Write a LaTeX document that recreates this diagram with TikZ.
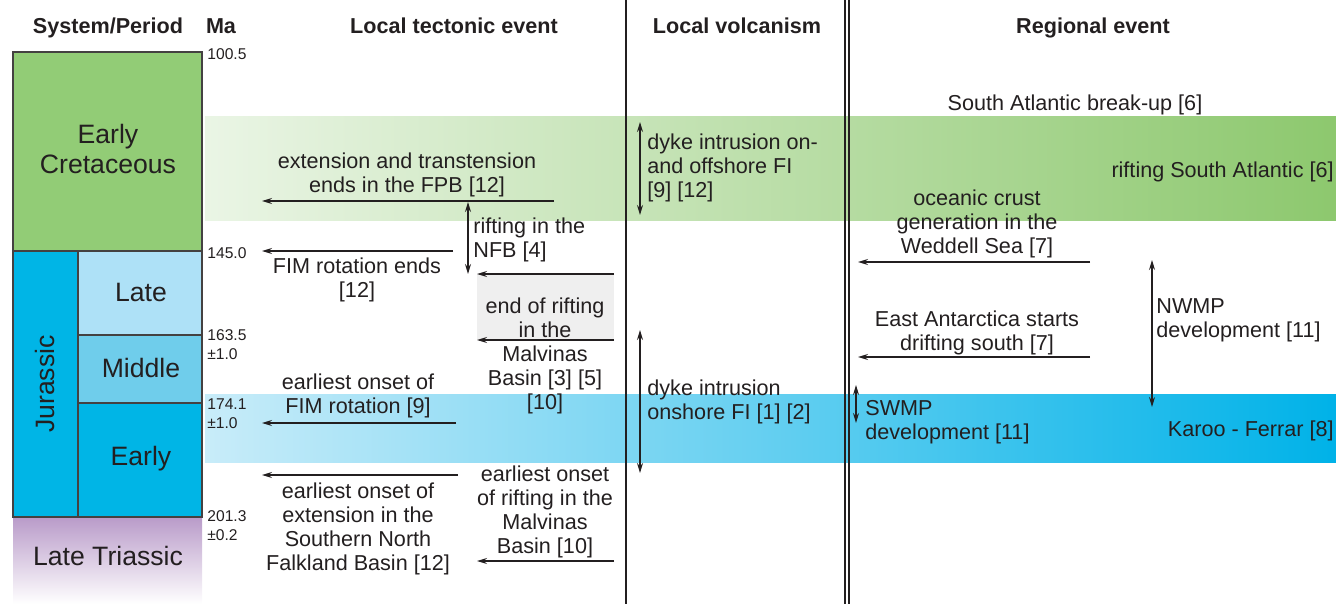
\documentclass[tikz,border=0pt]{standalone}
\usepackage{fontspec}
\setmainfont{Liberation Sans}
\usetikzlibrary{arrows.meta}
\definecolor{ink}{HTML}{231F20}
\definecolor{cretgreen}{HTML}{92CC76}
\definecolor{jur}{HTML}{00B5E6}
\definecolor{jlate}{HTML}{AEE1F7}
\definecolor{jmid}{HTML}{6FCDEB}
\definecolor{jearly}{HTML}{00B5E6}
\definecolor{tri}{HTML}{B99BC9}
\definecolor{gL}{HTML}{EAF5E5}
\definecolor{gM}{HTML}{C2E2B2}
\definecolor{gR}{HTML}{8DC86E}
\definecolor{bL}{HTML}{C8ECF9}
\definecolor{bM}{HTML}{6CD0F0}
\definecolor{bR}{HTML}{00B2E8}
\definecolor{grayfill}{HTML}{EFEFEF}
\begin{document}
\begin{tikzpicture}[x=0.5pt,y=-0.5pt,
  txt/.style={font=\fontsize{10.8}{12}\selectfont, align=center, inner sep=0pt, text=ink, yshift=-1pt},
  ltxt/.style={txt, align=left, anchor=west},
  hdr/.style={font=\fontsize{10.8}{12}\selectfont\bfseries, inner sep=0pt, text=ink, anchor=base},
  malab/.style={font=\fontsize{7.8}{9.5}\selectfont, align=left, anchor=west, inner sep=0pt, text=ink, yshift=-0.8pt},
  per/.style={font=\fontsize{13.3}{15}\selectfont, align=center, inner sep=0pt, text=ink},
  box/.style={draw=ink!85, line width=0.6pt},
  arr/.style={-{Stealth[length=5pt,width=3pt]}, line width=0.6pt, draw=ink},
  dblarr/.style={{Stealth[length=5pt,width=3pt]}-{Stealth[length=5pt,width=3pt]}, line width=0.6pt, draw=ink},
  sep/.style={line width=0.75pt, draw=ink}]
\useasboundingbox (0,0) rectangle (1336,604);

% bands
\shade[left color=gL, middle color=gM, right color=gR] (205,117) rectangle (1336,220);
\shade[left color=bL, middle color=bM, right color=bR] (205,394) rectangle (1336,462);
\fill[grayfill] (477,274) rectangle (614,340);

% headers
\node[hdr] (hsys) at (108,34) {System/Period};
\node[hdr] (hma) at (221,34) {Ma};
\node[hdr] (htec) at (454,34) {Local tectonic event};
\node[hdr] (hvol) at (737,34) {Local volcanism};
\node[hdr] (hreg) at (1093,34) {Regional event};

% separators
\draw[sep] (626,0) -- (626,604);
\draw[sep] (845,0) -- (845,604);
\draw[sep] (849,0) -- (849,604);

% geological column
\shade[top color=tri, bottom color=white] (13,517) rectangle (202,604);
\filldraw[box, fill=cretgreen] (13,52) rectangle (202,251);
\filldraw[box, fill=jur] (13,251) rectangle (78,517);
\filldraw[box, fill=jlate] (78,251) rectangle (202,335);
\filldraw[box, fill=jmid] (78,335) rectangle (202,403);
\filldraw[box, fill=jearly] (78,403) rectangle (202,517);
\node[per] (ecret) at (108,149) {Early\\Cretaceous};
\node[per, rotate=90] (jurassic) at (45,384) {Jurassic};
\node[per] (late) at (141,292) {Late};
\node[per] (middle) at (141,368) {Middle};
\node[per] (early) at (141,459) {Early};
\node[per] (ltri) at (108,556) {Late Triassic};

% Ma labels
\node[malab] (m1) at (207,53) {100.5};
\node[malab] (m2) at (207,252) {145.0};
\node[malab] (m3) at (207,343) {163.5\\±1.0};
\node[malab] (m4) at (207,412) {174.1\\±1.0};
\node[malab] (m5) at (207,524) {201.3\\±0.2};

% local tectonic events
\node[txt] (fpb) at (407,173) {extension and transtension\\ends in the FPB [12]};
\coordinate (fpbR) at (554,201); \coordinate (fpbL) at (262,201);
\draw[arr] (fpbR) -- (fpbL);

\coordinate (nfbT) at (468,202); \coordinate (nfbB) at (468,274);
\draw[dblarr] (nfbT) -- (nfbB);
\node[ltxt] (nfb) at (473,238) {rifting in the\\NFB [4]};

\coordinate (fimR) at (453,251); \coordinate (fimL) at (262,251);
\draw[arr] (fimR) -- (fimL);
\node[txt] (fim) at (357,278) {FIM rotation ends\\{[12]}};

\coordinate (mbR1) at (614,274); \coordinate (mbL1) at (477,274);
\draw[arr] (mbR1) -- (mbL1);
\coordinate (mbR2) at (614,340); \coordinate (mbL2) at (477,340);
\draw[arr] (mbR2) -- (mbL2);
\node[txt] (mb) at (545,354) {end of rifting\\in the\\Malvinas\\Basin [3] [5]\\{[10]}};

\node[txt] (fimon) at (358,394) {earliest onset of\\FIM rotation [9]};
\coordinate (fimonR) at (456,423); \coordinate (fimonL) at (262,423);
\draw[arr] (fimonR) -- (fimonL);

\coordinate (snR) at (458,475); \coordinate (snL) at (262,475);
\draw[arr] (snR) -- (snL);
\node[txt] (snfb) at (358,527) {earliest onset of\\extension in the\\Southern North\\Falkland Basin [12]};

\node[txt] (mbon) at (545,510) {earliest onset\\of rifting in the\\Malvinas\\Basin [10]};
\coordinate (mbonR) at (614,561); \coordinate (mbonL) at (477,561);
\draw[arr] (mbonR) -- (mbonL);

% local volcanism
\coordinate (v1T) at (640,122); \coordinate (v1B) at (640,215);
\draw[dblarr] (v1T) -- (v1B);
\node[ltxt] (v1) at (647,166) {dyke intrusion on-\\and offshore FI\\{[9] [12]}};
\coordinate (v2T) at (640,330); \coordinate (v2B) at (640,473);
\draw[dblarr] (v2T) -- (v2B);
\node[ltxt] (v2) at (647,400) {dyke intrusion\\onshore FI [1] [2]};

% regional events
\node[txt] (sab) at (1075,103) {South Atlantic break-up [6]};
\node[txt, anchor=east] (rsa) at (1334,170) {rifting South Atlantic [6]};
\node[txt] (ocg) at (977,222) {oceanic crust\\generation in the\\Weddell Sea [7]};
\coordinate (ocgR) at (1090,262); \coordinate (ocgL) at (858,262);
\draw[arr] (ocgR) -- (ocgL);
\node[txt] (eas) at (977,331) {East Antarctica starts\\drifting south [7]};
\coordinate (easR) at (1090,357); \coordinate (easL) at (858,357);
\draw[arr] (easR) -- (easL);
\coordinate (nwT) at (1152,260); \coordinate (nwB) at (1152,407);
\draw[dblarr] (nwT) -- (nwB);
\node[ltxt] (nwmp) at (1156,318) {NWMP\\development [11]};
\coordinate (swT) at (856,385); \coordinate (swB) at (856,423);
\draw[dblarr] (swT) -- (swB);
\node[ltxt] (swmp) at (865,420) {SWMP\\development [11]};
\node[txt, anchor=east] (kf) at (1334,429) {Karoo - Ferrar [8]};
\end{tikzpicture}
\end{document}
